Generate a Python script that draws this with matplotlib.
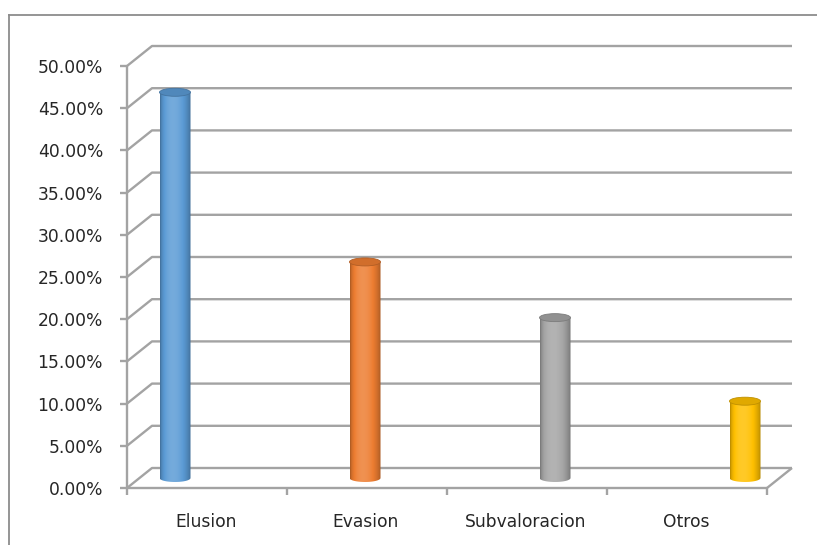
import numpy as np
import matplotlib
matplotlib.use("Agg")
import matplotlib.pyplot as plt
from matplotlib.path import Path
from matplotlib.patches import PathPatch, Ellipse
from matplotlib.lines import Line2D
from matplotlib.colors import to_rgb

# ---- data ----
categories = ["Elusion", "Evasion", "Subvaloracion", "Otros"]
values = [0.457, 0.256, 0.190, 0.091]
colors = ["#5B9BD5", "#ED7D31", "#A5A5A5", "#FFC000"]
yticks = [0.0, 0.05, 0.10, 0.15, 0.20, 0.25, 0.30, 0.35, 0.40, 0.45, 0.50]
ytick_labels = [f"{v*100:.2f}%" for v in yticks]

W, H = 817, 545
fig = plt.figure(figsize=(W / 100, H / 100), dpi=100)
fig.patch.set_facecolor("white")

FONT = ["DejaVu Sans"]
FS = 12.3
TEXT_COLOR = "#262626"
GRID_COLOR = "#a3a3a3"

# front plane of the plot box (pixels)
left_px, right_px, top_px, bottom_px = 127, 767, 66, 488
depth_x, depth_y = 25, 20  # wall depth in pixels

ax = fig.add_axes([left_px / W, 1 - bottom_px / H,
                   (right_px - left_px) / W, (bottom_px - top_px) / H])
ncat = len(categories)
ax.set_xlim(0, ncat)
ax.set_ylim(0, 0.5)
ax.axis("off")

px_x = (right_px - left_px) / ncat      # pixels per category unit
px_y = (bottom_px - top_px) / 0.5       # pixels per value unit
dx, dy = depth_x / px_x, depth_y / px_y

line_kw = dict(color=GRID_COLOR, lw=1.7, solid_capstyle="butt", clip_on=False)

# back-wall gridlines with their left-wall diagonals
for v, lab in zip(yticks, ytick_labels):
    ax.plot([0, dx, ncat + dx], [v, v + dy, v + dy], **line_kw)
    ax.plot([-7 / px_x, 0], [v, v], **line_kw)
    ax.text(-24 / px_x, v - 2 / px_y, lab, ha="right", va="center",
            fontsize=FS, family=FONT, color=TEXT_COLOR)

# floor front edge, right edge, vertical axis
ax.plot([0, ncat], [0, 0], **line_kw)
ax.plot([ncat, ncat + dx], [0, dy], **line_kw)
ax.plot([0, 0], [0, 0.5], **line_kw)
for k in range(ncat + 1):
    ax.plot([k, k], [0, -7 / px_y], **line_kw)

for i, name in enumerate(categories):
    ax.text(i + 0.5 - 1 / px_x, -34 / px_y, name, ha="center", va="center",
            fontsize=FS, family=FONT, color=TEXT_COLOR)

# ---- cylinders on the mid-depth plane ----
centers_px = [175, 365, 555, 745]
step = centers_px[1] - centers_px[0]
ax2 = fig.add_axes([left_px / W, 1 - (bottom_px - 10) / H,
                    (right_px - left_px) / W, (bottom_px - top_px) / H])
ax2.axis("off")
ax2.patch.set_alpha(0)
x_lo = -(centers_px[0] - left_px) / step
x_hi = (ncat - 1) + (right_px - centers_px[-1]) / step

cyl_w = 31 / step
ell_h = 8 / px_y


def shade(base, n=64):
    t = np.linspace(0, 1, n)
    k = 0.70 + 0.42 * np.sin(np.pi * t ** 0.8) ** 0.7
    rgb = np.array(to_rgb(base))
    out = []
    for kk in k:
        if kk <= 1:
            out.append(rgb * kk)
        else:
            out.append(rgb + (1 - rgb) * (kk - 1) * 1.3)
    return np.clip(np.array(out), 0, 1)[None, :, :]


for i, (v, c) in enumerate(zip(values, colors)):
    x0, x1 = i - cyl_w / 2, i + cyl_w / 2
    # body outline: rectangle plus rounded bottom
    theta = np.linspace(np.pi, 2 * np.pi, 40)
    bx = i + cyl_w / 2 * np.cos(theta)
    by = 0 + ell_h / 2 * np.sin(theta)
    verts = [(x0, v)] + list(zip(bx, by)) + [(x1, v), (x0, v)]
    body = Path(verts, closed=True)
    patch = PathPatch(body, facecolor="none", edgecolor="none",
                      transform=ax2.transData, clip_on=False)
    ax2.add_patch(patch)
    im = ax2.imshow(shade(c), extent=[x0, x1, -ell_h, v], aspect="auto",
                    interpolation="bilinear", zorder=2)
    im.set_clip_box(fig.bbox)
    im.set_clip_path(patch)
    # top face
    top_rgb = np.array(to_rgb(c)) * 0.88
    ax2.add_patch(Ellipse((i, v), cyl_w, ell_h, facecolor=top_rgb,
                          edgecolor=np.array(to_rgb(c)) * 0.75, lw=0.6, zorder=3,
                          clip_on=False))

ax2.set_xlim(x_lo, x_hi)
ax2.set_ylim(0, 0.5)

# chart-area border (left and top)
fig.add_artist(Line2D([9 / W, 9 / W], [0, 1 - 15 / H], color="#8c8c8c", lw=1.3,
                      transform=fig.transFigure))
fig.add_artist(Line2D([9 / W, 1], [1 - 15 / H, 1 - 15 / H], color="#8c8c8c", lw=1.3,
                      transform=fig.transFigure))

fig.savefig("out.png", dpi=100, facecolor="white")
